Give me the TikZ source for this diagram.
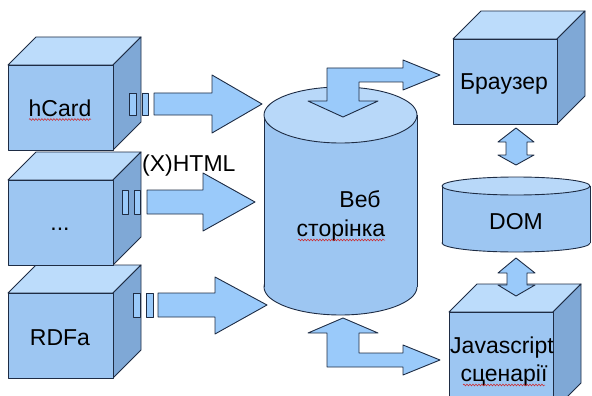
\documentclass[tikz,border=0pt]{standalone}
\usepackage{fontspec}
\setmainfont{Liberation Sans}
\usetikzlibrary{decorations.pathmorphing}
\definecolor{frontc}{HTML}{9DC6F2}
\definecolor{topc}{HTML}{BCDCFB}
\definecolor{sidec}{HTML}{7FA8D6}
\definecolor{cyltop}{HTML}{B8D8F9}
\definecolor{arrowc}{HTML}{9ACAFA}
\definecolor{edgec}{HTML}{1E2C44}
\definecolor{spellc}{HTML}{D02020}
\tikzset{
  outl/.style={draw=edgec, line width=0.9pt, line join=round},
  lbl/.style={inner sep=0pt, anchor=base, font=\fontsize{23}{27}\selectfont, text=black},
  spell/.style={draw=spellc, line width=0.5pt, decorate, decoration={snake, amplitude=0.9pt, segment length=3pt}}
}
\newcommand\mycube[5]{%
  \fill[topc] (#1,#2) -- ({#1+#5},{#2-#5}) -- ({#3+#5},{#2-#5}) -- (#3,#2) -- cycle;
  \draw[outl] (#1,#2) -- ({#1+#5},{#2-#5}) -- ({#3+#5},{#2-#5}) -- (#3,#2) -- cycle;
  \fill[sidec] (#3,#2) -- ({#3+#5},{#2-#5}) -- ({#3+#5},{#4-#5}) -- (#3,#4) -- cycle;
  \draw[outl] (#3,#2) -- ({#3+#5},{#2-#5}) -- ({#3+#5},{#4-#5}) -- (#3,#4) -- cycle;
  \fill[frontc] (#1,#2) rectangle (#3,#4);
  \draw[outl] (#1,#2) rectangle (#3,#4);
}
% cylinder: x-left, x-right, y-top, y-bottom, ry
\newcommand\mycyl[5]{%
  \filldraw[outl, fill=frontc] ({(#1+#2)/2},#4) ellipse [x radius={(#2-#1)/2*1pt}, y radius=#5pt];
  \fill[frontc] (#1,#3) rectangle (#2,#4);
  \draw[outl] (#1,#3) -- (#1,#4) (#2,#3) -- (#2,#4);
  \filldraw[outl, fill=cyltop] ({(#1+#2)/2},#3) ellipse [x radius={(#2-#1)/2*1pt}, y radius=#5pt];
}
\begin{document}
\begin{tikzpicture}[x=1pt,y=-1pt]
\useasboundingbox (0,0) rectangle (592,396);
\clip (0,0) rectangle (592,396);

% left cubes (bottom first)
\mycube{8}{293}{113}{378}{28}
\mycube{8}{180}{113}{265}{28}
\mycube{8}{65}{113}{150}{28}

% ports
\filldraw[outl, fill=arrowc] (129,93) rectangle (136,115) (142,93) rectangle (148,115);
\filldraw[outl, fill=arrowc] (122,190) rectangle (128,214) (134,190) rectangle (140,214);
\filldraw[outl, fill=arrowc] (133,293) rectangle (140,317) (146,293) rectangle (153,317);

% straight arrows
\filldraw[outl, fill=arrowc] (154,93) -- (212,93) -- (212,75) -- (262,104) -- (212,133) -- (212,115) -- (154,115) -- cycle;
\filldraw[outl, fill=arrowc] (147,190) -- (203,190) -- (203,173) -- (255,202) -- (203,231) -- (203,214) -- (147,214) -- cycle;
\filldraw[outl, fill=arrowc] (158,293) -- (215,293) -- (215,277) -- (267,305) -- (215,334) -- (215,317) -- (158,317) -- cycle;

% web page cylinder
\mycyl{264}{417}{115}{287}{28}

% connector to browser
\filldraw[outl, fill=arrowc] (327,68) -- (403,68) -- (403,60) -- (440,75) -- (403,90) -- (403,82) -- (359,82) -- (359,101) -- (378,101) -- (343,117) -- (308,101) -- (327,101) -- cycle;
% connector to scripts
\filldraw[outl, fill=arrowc] (343,318) -- (378,333) -- (359,333) -- (359,353) -- (403,353) -- (403,345) -- (440,360) -- (403,375) -- (403,367) -- (327,367) -- (327,333) -- (308,333) -- cycle;

% browser cube
\mycube{453}{39}{557}{124}{28}
% DOM cylinder
\mycyl{442}{590}{186}{243}{9}
% JS cube
\mycube{449}{312}{553}{411}{28}

% double arrows
\filldraw[outl, fill=arrowc] (516,128) -- (534,142) -- (527,142) -- (527,155) -- (534,155) -- (516,165) -- (498,155) -- (506,155) -- (506,142) -- (498,142) -- cycle;
\filldraw[outl, fill=arrowc] (516,258) -- (535,273) -- (527,273) -- (527,285) -- (535,285) -- (516,296) -- (498,285) -- (507,285) -- (507,273) -- (498,273) -- cycle;

% labels
\node[lbl] (hcard) at (60,116) {hCard};
\node[lbl] (dots) at (60,230) {...};
\node[lbl] (rdfa) at (60,345) {RDFa};
\node[lbl, anchor=base west] (xhtml) at (142,171) {(X)HTML};
\node[lbl] (veb) at (360,207) {Веб};
\node[lbl] (storinka) at (341,236) {сторінка};
\node[lbl] (brauzer) at (504,90) {Браузер};
\node[lbl] (dom) at (516,229) {DOM};
\node[lbl] (js) at (502,353) {Javascript};
\node[lbl] (scen) at (504,381) {сценарії};

% spell-check underlines
\draw[spell] (29,119.5) -- (91,119.5);
\draw[spell] (298,240) -- (385,240);
\draw[spell] (463,385) -- (545,385);
\end{tikzpicture}
\end{document}
